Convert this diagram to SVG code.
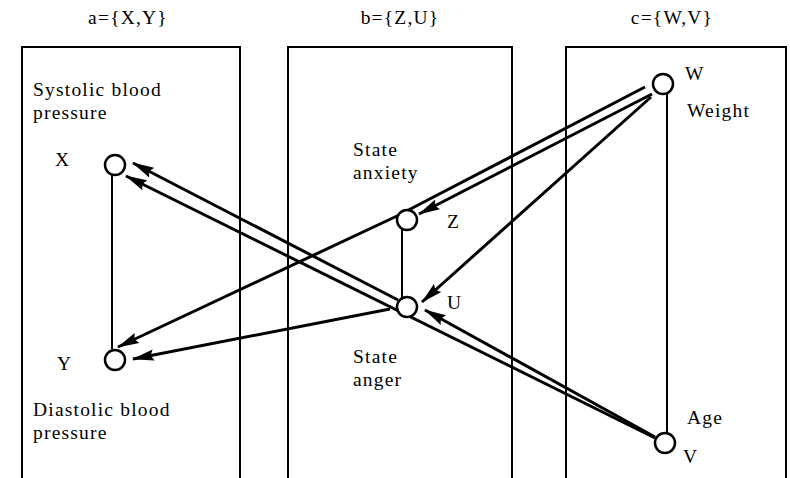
<svg xmlns="http://www.w3.org/2000/svg" width="790" height="478" viewBox="0 0 790 478">
<style>
text{font-family:"Liberation Serif","Times New Roman",serif;font-size:19.5px;letter-spacing:1.2px;fill:#000}
.box{fill:none;stroke:#000;stroke-width:2}
.node{fill:#fff;stroke:#000;stroke-width:2.5}
.edge{fill:none;stroke:#000;stroke-width:2}
.arr{fill:none;stroke:#000;stroke-width:3;marker-end:url(#ah)}
</style>
<defs>
<marker id="ah" markerUnits="userSpaceOnUse" viewBox="0 0 22 12" markerWidth="22" markerHeight="12" refX="21" refY="6" orient="auto">
<path d="M0,0.5 L22,6 L0,11.5 L3,6 z" fill="#000"/>
</marker>
</defs>
<g id="clusters">
<path class="box" d="M22,478 V47 H240 V478"/>
<path class="box" d="M288,478 V47 H512 V478"/>
<path class="box" d="M566,478 V47 H786 V478"/>
<text x="128" y="24" text-anchor="middle">a={X,Y}</text>
<text x="400" y="24" text-anchor="middle">b={Z,U}</text>
<text x="672" y="24" text-anchor="middle">c={W,V}</text>
</g>
<g id="connectors">
<line class="edge" x1="112" y1="175" x2="112" y2="349"/>
<line class="edge" x1="402" y1="229" x2="402" y2="298"/>
<line class="edge" x1="667" y1="94" x2="667" y2="434"/>
<path class="arr" d="M398,300 L133,163"/>
<path class="arr" d="M655,438 L126,176"/>
<path class="arr" d="M652,94 L419,214"/>
<path class="arr" d="M651,97 L422,302"/>
<path class="arr" d="M655,437 L425,310"/>
<path class="arr" d="M645,87 L397,216 L118,347"/>
<path class="arr" d="M390,309 L133,359"/>
</g>
<g id="X">
<circle class="node" cx="115" cy="165" r="10"/>
<text x="55" y="166">X</text>
<text x="33" y="96">Systolic blood</text>
<text x="33" y="119">pressure</text>
</g>
<g id="Y">
<circle class="node" cx="115" cy="360" r="10"/>
<text x="57" y="370">Y</text>
<text x="33" y="416">Diastolic blood</text>
<text x="33" y="439">pressure</text>
</g>
<g id="Z">
<circle class="node" cx="407" cy="220" r="10"/>
<text x="447" y="228">Z</text>
<text x="353" y="156">State</text>
<text x="353" y="179">anxiety</text>
</g>
<g id="U">
<circle class="node" cx="407" cy="307" r="10"/>
<text x="447" y="309">U</text>
<text x="353" y="363">State</text>
<text x="353" y="386">anger</text>
</g>
<g id="W">
<circle class="node" cx="663" cy="84" r="10"/>
<text x="685" y="80">W</text>
<text x="687" y="117">Weight</text>
</g>
<g id="V">
<circle class="node" cx="665" cy="443" r="10"/>
<text x="683" y="463">V</text>
<text x="687" y="424">Age</text>
</g>
</svg>
